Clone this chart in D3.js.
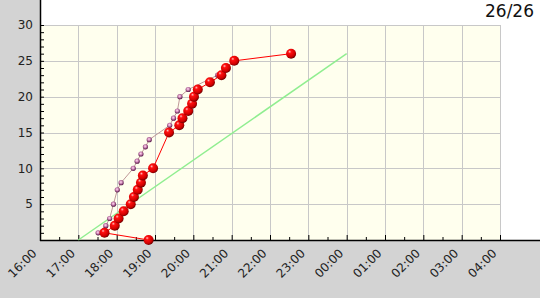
<!DOCTYPE html>
<html><head><meta charset="utf-8">
<script src="https://cdn.jsdelivr.net/npm/d3@7"></script>
<style>body{margin:0;background:#fff}svg{display:block;font-family:"DejaVu Sans",sans-serif}</style>
</head><body><svg id="c" width="540" height="300"></svg>
<script>
const title = "26/26";
const xTickLabels = ["16:00","17:00","18:00","19:00","20:00","21:00","22:00","23:00","00:00","01:00","02:00","03:00","04:00"];
const yTicks = [5,10,15,20,25,30];
const actualTimes = ["18:50","17:41","17:57","18:03","18:11","18:22","18:27","18:33","18:38","18:41","18:57","19:22","19:38","19:43","19:52","19:58","20:01","20:07","20:26","20:44","20:51","21:04","22:33"];
const actualCounts = [0,1,2,3,4,5,6,7,8,9,10,15,16,17,18,19,20,21,22,23,24,25,26];
const refTimes = ["17:31","17:43","17:49","17:55","18:01","18:07","18:26","18:32","18:38","18:45","18:51","19:23","19:29","19:35","19:39","19:52","20:38","20:50"];
const refCounts = [1,2,3,5,7,8,10,11,12,13,14,16,17,18,20,21,23,24];
const targetTimes = ["17:00","00:00"];
const targetCounts = [0,26];

function parseT(s){const [h,m]=s.split(":").map(Number);return new Date(2000,0,h<12?2:1,h,m);}

const svg = d3.select("#c");
const L=40,R=500,T=25,B=240;
const x = d3.scaleTime().domain([parseT("16:00"),parseT("04:00")]).range([L,R]);
const y = d3.scaleLinear().domain([0,30]).range([B,T]);

// backgrounds
svg.append("rect").attr("x",0).attr("y",0).attr("width",L).attr("height",298).attr("fill","#d3d3d3");
svg.append("rect").attr("x",0).attr("y",B).attr("width",540).attr("height",58).attr("fill","#d3d3d3");
svg.append("rect").attr("x",L).attr("y",T).attr("width",R-L).attr("height",B-T).attr("fill","#ffffee");

const defs = svg.append("defs");
const g1 = defs.append("radialGradient").attr("id","ball").attr("cx","40%").attr("cy","35%").attr("r","65%").attr("fx","35%").attr("fy","30%");
g1.append("stop").attr("offset","0%").attr("stop-color","#ffc0c0");
g1.append("stop").attr("offset","25%").attr("stop-color","#ff1010");
g1.append("stop").attr("offset","75%").attr("stop-color","#d00000");
g1.append("stop").attr("offset","100%").attr("stop-color","#700000");
const g2 = defs.append("radialGradient").attr("id","dot").attr("cx","45%").attr("cy","40%").attr("r","60%");
g2.append("stop").attr("offset","0%").attr("stop-color","#ffe0f0");
g2.append("stop").attr("offset","40%").attr("stop-color","#d890c0");
g2.append("stop").attr("offset","100%").attr("stop-color","#501040");

// grid
const hourTicks = xTickLabels.map((s,i)=>d3.timeHour.offset(parseT("16:00"),i));
svg.append("g").selectAll("line").data(hourTicks.slice(1)).join("line")
  .attr("x1",d=>Math.round(x(d))+0.5).attr("x2",d=>Math.round(x(d))+0.5).attr("y1",T).attr("y2",B)
  .attr("stroke","#c8c8c8");
svg.append("g").selectAll("line").data(yTicks).join("line")
  .attr("x1",L).attr("x2",R).attr("y1",d=>Math.round(y(d))+0.5).attr("y2",d=>Math.round(y(d))+0.5)
  .attr("stroke","#c8c8c8");

// y axis
const yAxis = d3.axisRight(y).tickValues(d3.range(0,31)).tickSize(4).tickFormat("");
const ya = svg.append("g").attr("transform",`translate(${L},0)`).call(yAxis);
ya.select(".domain").remove();
ya.selectAll("line").attr("stroke","#000");
svg.append("g").selectAll("text").data(yTicks).join("text")
  .attr("x",33).attr("y",d=>y(d)).attr("dy","0.35em").attr("text-anchor","end")
  .attr("font-size",12).attr("fill","#222").text(d=>d);
svg.append("line").attr("x1",L+0.5).attr("x2",L+0.5).attr("y1",0).attr("y2",B+1).attr("stroke","#000").attr("stroke-width",1.5);

// x axis
const halfTicks = d3.range(0,25).map(i=>d3.timeMinute.offset(parseT("16:00"),i*30));
const xAxis = d3.axisTop(x).tickValues(halfTicks).tickSize(0).tickFormat("");
const xa = svg.append("g").attr("transform",`translate(0,${B})`).call(xAxis);
xa.select(".domain").remove();
xa.selectAll(".tick line").attr("stroke","#000").attr("y2",(d,i)=>i%2===0?-5:-3);
svg.append("line").attr("x1",L).attr("x2",540).attr("y1",B+0.5).attr("y2",B+0.5).attr("stroke","#000").attr("stroke-width",1.5);
svg.append("g").selectAll("text").data(hourTicks).join("text")
  .attr("transform",(d,i)=>`translate(${x(d)-2.5},254) rotate(-45)`)
  .attr("text-anchor","end").attr("font-size",12).attr("fill","#222")
  .text((d,i)=>xTickLabels[i]);

// series
const line = d3.line().x(d=>x(d.t)).y(d=>y(d.v));
const target = targetTimes.map((t,i)=>({t:parseT(t),v:targetCounts[i]}));
const ref = refTimes.map((t,i)=>({t:parseT(t),v:refCounts[i]}));
const actual = actualTimes.map((t,i)=>({t:parseT(t),v:actualCounts[i]}));
svg.append("path").datum(target).attr("d",line).attr("fill","none").attr("stroke","#90ee90").attr("stroke-width",1.5);
svg.append("path").datum(ref).attr("d",line).attr("fill","none").attr("stroke","#c09898").attr("stroke-width",1);
svg.append("g").selectAll("circle").data(ref).join("circle")
  .attr("cx",d=>x(d.t)).attr("cy",d=>y(d.v)).attr("r",2.6).attr("fill","url(#dot)");
svg.append("path").datum(actual).attr("d",line).attr("fill","none").attr("stroke","#ff0000").attr("stroke-width",1);
svg.append("g").selectAll("circle").data(actual).join("circle")
  .attr("cx",d=>x(d.t)).attr("cy",d=>y(d.v)).attr("r",5).attr("fill","url(#ball)");

svg.append("text").attr("x",534).attr("y",17).attr("text-anchor","end").attr("font-size",17).attr("fill","#111").text(title);
</script></body></html>
